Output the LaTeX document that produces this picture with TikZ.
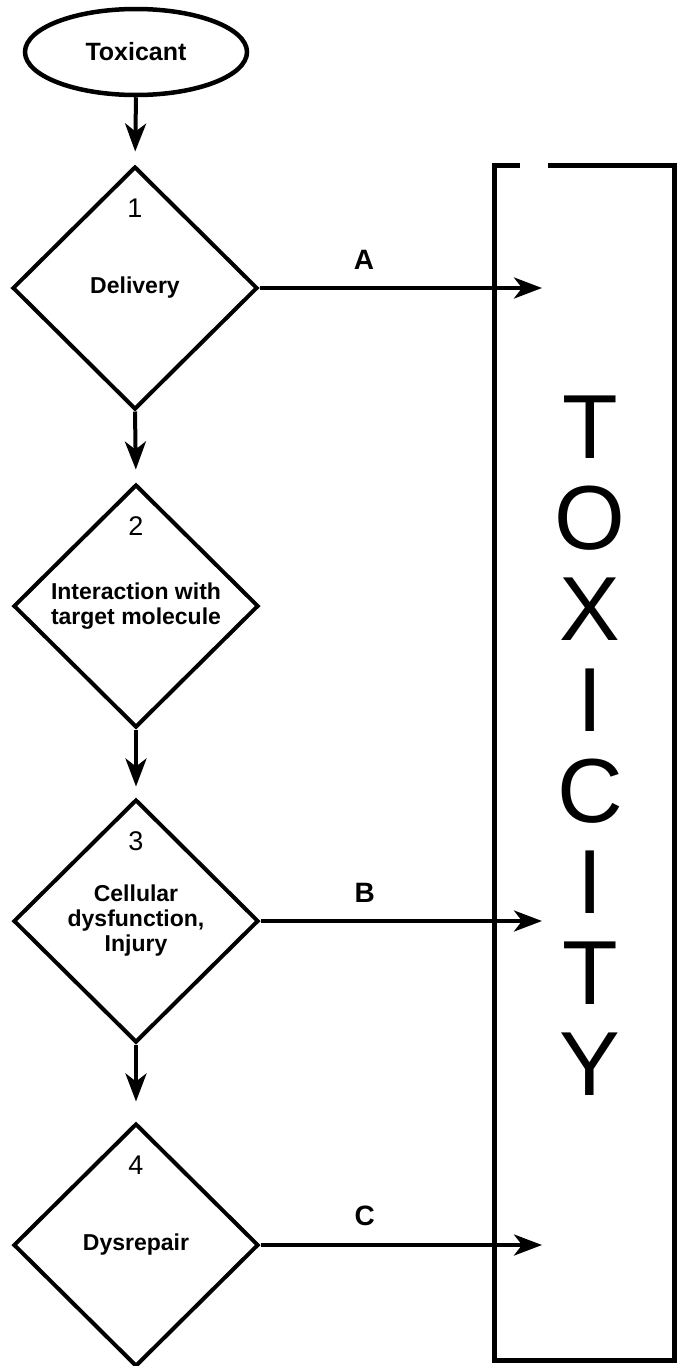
\documentclass[tikz,border=0pt]{standalone}
\usepackage{fontspec}
\setmainfont{Liberation Sans}
\usetikzlibrary{shapes.geometric,arrows.meta,calc}
\begin{document}
\begin{tikzpicture}[x=1pt,y=-1pt,
  stage/.style={draw,diamond,line width=4pt,inner sep=0pt,minimum width=245pt,minimum height=243pt,
    align=center,font=\fontsize{23}{25}\selectfont\bfseries},
  num/.style={inner sep=0pt,font=\fontsize{27}{27}\selectfont},
  flow/.style={line width=4pt,-{Stealth[length=28pt,width=21pt,inset=8pt]}},
  tag/.style={inner sep=0pt,font=\fontsize{28}{28}\selectfont\bfseries},
  letter/.style={anchor=base,inner sep=0pt,font=\fontsize{91}{91}\selectfont},
  toxbox/.style={line width=5pt,line join=miter}]
  \useasboundingbox (0,0) rectangle (677,1366);
  \node[draw,ellipse,line width=4.5pt,minimum width=222pt,minimum height=86pt,font=\fontsize{25}{25}\selectfont\bfseries] (tox) at (136,52) {Toxicant};
  \node[stage] (d1) at (135,288) {Delivery};
  \node[stage] (d2) at (136,606) {Interaction with\\target molecule};
  \node[stage] (d3) at (136,921) {Cellular\\dysfunction,\\Injury};
  \node[stage] (d4) at (136,1245) {Dysrepair};
  \foreach \i in {1,2,3,4} \node[num] (n\i) at ($(d\i.north)+(0,44)$) {\i};
  \draw[flow,shorten >=13pt] (tox.south) -- (d1.north);
  \draw[flow,shorten >=13pt] (d1.south) -- (d2.north);
  \draw[flow,shorten >=11pt] (d2.south) -- (d3.north);
  \draw[flow,shorten >=20pt] (d3.south) -- (d4.north);
  \coordinate (edge) at (542,0);
  \draw[flow] (d1.east) -- (d1.east -| edge) node[tag,pos=.37,above=17pt] (la) {A};
  \draw[flow] (d3.east) -- (d3.east -| edge) node[tag,pos=.37,above=17pt] (lb) {B};
  \draw[flow] (d4.east) -- (d4.east -| edge) node[tag,pos=.37,above=17pt] (lc) {C};
  \coordinate (bl) at (494,1360);
  \coordinate (tr) at (674,165);
  \draw[toxbox] (520,165) -| (bl) -| (tr) -- (548,165);
  \foreach \l [count=\i] in {T,O,X,I,C,I,T,Y} \node[letter] (t\i) at (590,{458+91*(\i-1)}) {\l};
\end{tikzpicture}
\end{document}
